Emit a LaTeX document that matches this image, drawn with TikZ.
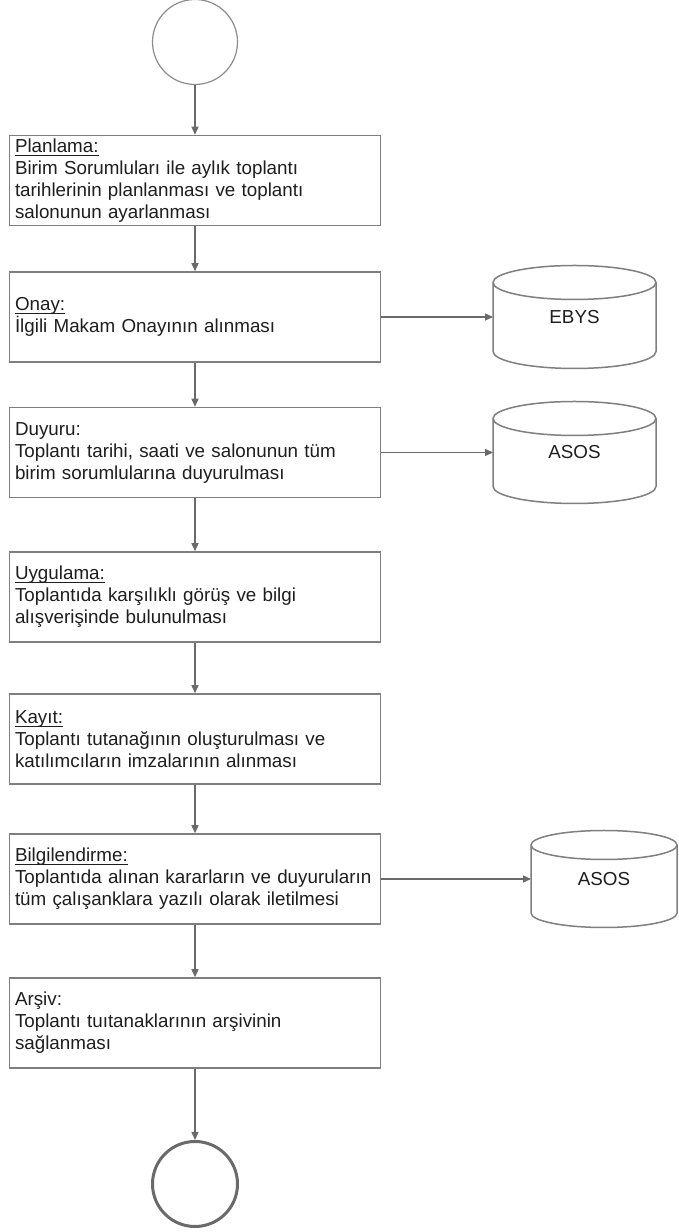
\documentclass[tikz,border=0pt]{standalone}
\usepackage{fontspec}
\setmainfont{Liberation Sans}
\usetikzlibrary{arrows.meta}

\definecolor{boxline}{HTML}{7F7F7F}
\definecolor{flow}{HTML}{6A6A6A}
\definecolor{ink}{HTML}{1E1E1E}
\definecolor{startline}{HTML}{8C8C8C}

% heading underline at a fixed distance below the baseline
\newcommand{\headline}[1]{%
  \setbox0=\hbox{#1}%
  \rlap{\vrule height -2.2pt depth 3.5pt width \wd0}\box0}

\tikzset{
  stepbox/.style={draw=boxline, line width=1.5pt, rectangle,
    minimum width=370pt, minimum height=90pt, text width=360pt,
    inner xsep=5.5pt, inner ysep=0pt, align=left, text=ink,
    font=\fontsize{18.8}{22}\selectfont},
  flowline/.style={draw=flow, line width=1.3pt,
    -{Triangle[length=8pt,width=7pt]}},
  startnode/.style={circle, draw=startline, line width=1.2pt, minimum size=85pt, inner sep=0pt},
  endnode/.style={circle, draw=flow, line width=3pt, minimum size=85pt, inner sep=0pt},
  dbtext/.style={rectangle, inner sep=0pt, outer sep=0pt, text=ink,
    font=\fontsize{18.8}{22}\selectfont},
  dbline/.style={draw=boxline, line width=1.5pt}
}

% data store: name, cx, cy, width, height, ellipse y-radius, label
\newcommand{\datastore}[7]{%
  \node[dbtext, minimum width=#4pt, minimum height=#5pt] (#1) at (#2,#3) {#7};
  \draw[dbline] ([yshift=-#6pt]#1.north west) -- ([yshift=#6pt]#1.south west)
    arc[start angle=180, end angle=360, x radius=#4/2, y radius=#6]
    -- ([yshift=-#6pt]#1.north east);
  \draw[dbline] ([yshift=-#6pt]#1.north) ellipse[x radius=#4/2, y radius=#6];
}

\begin{document}
\begin{tikzpicture}[x=1pt, y=1pt]
  \fill[white] (0,0) rectangle (678,1232);
  \useasboundingbox (0,0) rectangle (678,1232);

  % process flow
  \node[startnode] (start) at (195,1190) {};

  \node[stepbox] (plan) at (195,1051.5) {\headline{Planlama:}\\
    Birim Sorumluları ile aylık toplantı\\
    tarihlerinin planlanması ve toplantı\\
    salonunun ayarlanması};

  \node[stepbox] (onay) at (195,915) {\headline{Onay:}\\
    İlgili Makam Onayının alınması};

  \node[stepbox] (duyuru) at (195,779.5) {Duyuru:\\
    Toplantı tarihi, saati ve salonunun tüm\\
    birim sorumlularına duyurulması};

  \node[stepbox] (uygulama) at (195,635) {\headline{Uygulama:}\\
    Toplantıda karşılıklı görüş ve bilgi\\
    alışverişinde bulunulması};

  \node[stepbox] (kayit) at (195,493) {\headline{Kayıt:}\\
    Toplantı tutanağının oluşturulması ve\\
    katılımcıların imzalarının alınması};

  \node[stepbox] (bilgi) at (195,353) {\headline{Bilgilendirme:}\\
    \mbox{Toplantıda alınan kararların ve duyuruların}\\
    tüm çalışanklara yazılı olarak iletilmesi};

  \node[stepbox] (arsiv) at (195,209) {Arşiv:\\
    Toplantı tuıtanaklarının arşivinin\\
    sağlanması};

  \node[endnode] (stop) at (195,48) {};

  % data stores
  \datastore{ebys}{574.5}{915}{163}{103}{17}{EBYS}
  \datastore{asosa}{574.5}{779.5}{163}{102}{17}{ASOS}
  \datastore{asosb}{604}{353}{146}{97}{14.5}{ASOS}

  % connectors
  \draw[flowline] (start) -- (plan);
  \draw[flowline] (plan) -- (onay);
  \draw[flowline] (onay) -- (duyuru);
  \draw[flowline] (duyuru) -- (uygulama);
  \draw[flowline] (uygulama) -- (kayit);
  \draw[flowline] (kayit) -- (bilgi);
  \draw[flowline] (bilgi) -- (arsiv);
  \draw[flowline] (arsiv) -- (stop);

  \draw[flowline] (onay.east) -- (ebys.west);
  \draw[flowline] (duyuru.east) -- (asosa.west);
  \draw[flowline] (bilgi.east) -- (asosb.west);
\end{tikzpicture}
\end{document}
